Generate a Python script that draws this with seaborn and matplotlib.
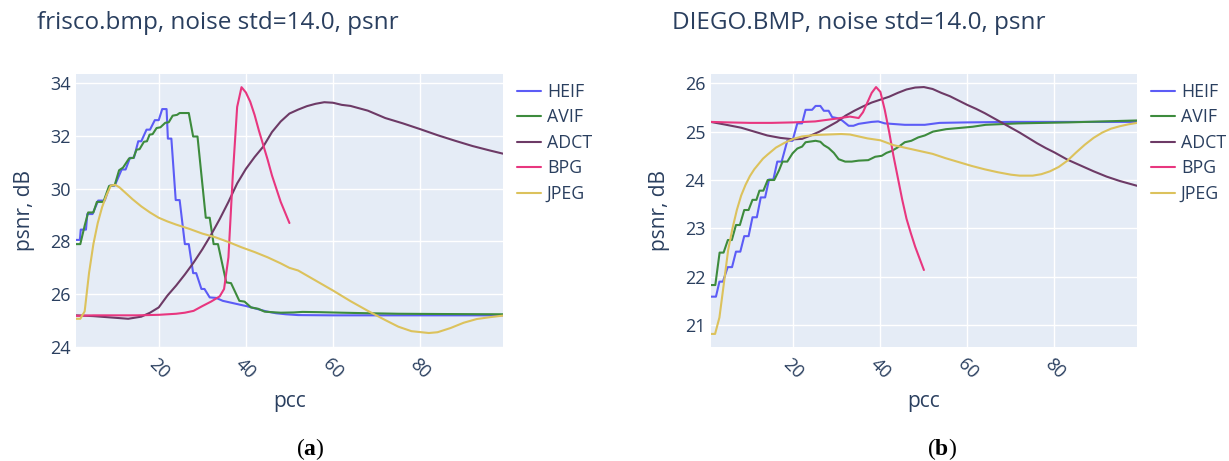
import pandas as pd
import matplotlib.pyplot as plt
import seaborn as sns

codecs = ['HEIF', 'AVIF', 'ADCT', 'BPG', 'JPEG']
palette = {'HEIF': '#5c5cf6', 'AVIF': '#3d8b3d', 'ADCT': '#6d3a66',
           'BPG': '#e8367f', 'JPEG': '#dcc25c'}

# ---- panel (a): frisco.bmp ----
heif_a_x = [1, 1.9, 2.1, 3.3, 3.6, 4.8, 6.1, 7.6, 8.8, 9.9, 11.5, 12.4, 13.4, 14.3, 15.3, 16.0,
            17.2, 18.0, 19.1, 20.0, 20.8, 21.8, 22.1, 22.9, 23.9, 24.8, 26.0, 26.9, 27.9, 28.6,
            29.8, 30.5, 31.7, 33.2, 34.7, 37.4, 40.1, 42.4, 44.7, 46.9, 49.2, 52, 60, 70, 80, 90, 99]
heif_a_y = [28.06, 28.06, 28.45, 28.45, 29.04, 29.04, 29.55, 29.55, 30.12, 30.12, 30.73, 30.73,
            31.17, 31.17, 31.8, 31.8, 32.24, 32.24, 32.6, 32.6, 33.02, 33.02, 31.9, 31.9, 29.57,
            29.57, 27.9, 27.9, 26.8, 26.8, 26.2, 26.2, 25.88, 25.86, 25.75, 25.65, 25.55, 25.45,
            25.35, 25.28, 25.24, 25.21, 25.2, 25.2, 25.2, 25.2, 25.2]

avif_a_x = [1, 2, 3.0, 3.8, 5.0, 5.8, 7.3, 8.6, 9.9, 10.9, 11.8, 13.2, 14.2, 14.9, 15.6, 16.6,
            17.3, 17.9, 18.6, 19.5, 20.4, 21.5, 22.3, 23.2, 24.2, 24.8, 26.9, 27.9, 28.9, 30.8,
            31.7, 32.6, 33.6, 35.5, 36.6, 38.5, 39.7, 41.2, 42.8, 44.3, 46, 48, 51, 53, 57, 62,
            68, 75, 85, 99]
avif_a_y = [27.9, 27.9, 28.6, 29.1, 29.1, 29.5, 29.5, 30.1, 30.14, 30.7, 30.8, 31.15, 31.17,
            31.48, 31.5, 31.78, 31.8, 32.05, 32.07, 32.3, 32.33, 32.5, 32.52, 32.77, 32.8, 32.87,
            32.87, 31.98, 31.98, 28.9, 28.9, 27.9, 27.9, 26.45, 26.42, 25.75, 25.72, 25.5, 25.45,
            25.34, 25.32, 25.3, 25.31, 25.33, 25.32, 25.3, 25.28, 25.26, 25.25, 25.24]

adct_a_x = [1, 5, 9, 13, 16, 18, 20, 22, 24, 26, 28, 30, 32, 34, 36, 38, 40, 42, 44, 46, 48,
            50, 52, 54, 56, 58, 60, 62, 64, 66, 68, 70, 72, 76, 80, 84, 88, 92, 96, 99]
adct_a_y = [25.2, 25.17, 25.12, 25.07, 25.15, 25.3, 25.5, 25.95, 26.33, 26.75, 27.2, 27.7,
            28.25, 28.85, 29.5, 30.2, 30.75, 31.2, 31.6, 32.15, 32.55, 32.85, 33.0, 33.13, 33.22,
            33.28, 33.26, 33.18, 33.14, 33.05, 32.96, 32.82, 32.68, 32.48, 32.26, 32.03, 31.82,
            31.62, 31.45, 31.33]

bpg_a_x = [1, 5, 10, 15, 20, 24, 26, 28, 30, 32, 34, 35, 36, 37, 38, 39, 40, 41, 42, 43, 44,
           45, 46, 47, 48, 49, 50]
bpg_a_y = [25.18, 25.2, 25.2, 25.2, 25.22, 25.26, 25.3, 25.37, 25.55, 25.72, 25.92, 26.2, 27.4,
           30.5, 33.1, 33.85, 33.65, 33.3, 32.8, 32.2, 31.65, 31.1, 30.5, 30.0, 29.5, 29.1, 28.7]

jpeg_a_x = [1, 2, 3, 4, 5, 6, 7, 8, 9, 10, 11, 12, 14, 16, 18, 20, 22, 24, 27, 30, 33, 36, 39,
            42, 45, 48, 50, 52, 56, 60, 64, 68, 72, 75, 78, 82, 84, 87, 90, 93, 96, 99]
jpeg_a_y = [25.07, 25.07, 25.35, 26.8, 27.9, 28.7, 29.3, 29.75, 30.12, 30.15, 30.05, 29.9, 29.6,
            29.33, 29.1, 28.9, 28.76, 28.64, 28.48, 28.3, 28.16, 27.98, 27.78, 27.6, 27.4, 27.17,
            27.0, 26.9, 26.52, 26.14, 25.74, 25.37, 25.02, 24.77, 24.6, 24.53, 24.56, 24.72,
            24.92, 25.06, 25.13, 25.19]

# ---- panel (b): DIEGO.BMP ----
heif_b_x = [1, 2.2, 3.0, 3.8, 4.9, 5.9, 6.8, 7.8, 8.7, 9.7, 10.6, 11.6, 12.5, 13.5, 14.4, 15.4,
            16.3, 17.3, 18.6, 19.8, 20.9, 22.0, 22.8, 24.3, 25.1, 26.2, 27.0, 28.1, 28.9, 30.0,
            31.2, 32.7, 33.8, 35, 36.5, 38, 39.5, 41, 45.6, 50.2, 53.6, 60, 70, 80, 90, 99]
heif_b_y = [21.59, 21.59, 21.9, 21.9, 22.2, 22.2, 22.52, 22.52, 22.84, 22.84, 23.23, 23.23,
            23.64, 23.64, 24.01, 24.01, 24.38, 24.38, 24.81, 24.81, 25.17, 25.17, 25.45, 25.45,
            25.53, 25.53, 25.43, 25.43, 25.3, 25.28, 25.23, 25.12, 25.12, 25.16, 25.18, 25.2,
            25.21, 25.17, 25.14, 25.14, 25.18, 25.19, 25.2, 25.2, 25.2, 25.2]

avif_b_x = [1, 2.05, 3.04, 3.95, 4.94, 5.85, 6.8, 7.7, 8.7, 9.7, 10.6, 11.5, 12.2, 13.1, 14.1,
            15.6, 16.7, 17.5, 18.6, 19.8, 20.9, 22, 22.8, 25.1, 26.2, 27, 28.1, 29.3, 30.4, 31.9,
            33.4, 35, 37.2, 38.8, 40.3, 41.4, 42.6, 44.1, 45.6, 47.1, 48.7, 50.2, 52.1, 55.1,
            61.2, 64.2, 71.8, 83.2, 99]
avif_b_y = [21.83, 21.83, 22.5, 22.5, 22.76, 22.76, 23.07, 23.07, 23.38, 23.38, 23.59, 23.59,
            23.78, 23.78, 24.0, 24.0, 24.2, 24.38, 24.38, 24.55, 24.65, 24.69, 24.78, 24.81,
            24.79, 24.72, 24.66, 24.56, 24.43, 24.38, 24.38, 24.4, 24.41, 24.48, 24.5, 24.56,
            24.6, 24.68, 24.78, 24.81, 24.88, 24.92, 25.0, 25.05, 25.1, 25.14, 25.17, 25.19, 25.23]

adct_b_x = [1, 4, 8, 11, 14, 17, 20, 22, 24, 26, 28, 30, 32, 34, 36, 38, 40, 42, 44, 46, 48,
            50, 52, 54, 56, 58, 60, 62, 64, 66, 68, 70, 72, 74, 76, 78, 80, 83, 86, 89, 92, 95, 99]
adct_b_y = [25.2, 25.15, 25.08, 25.0, 24.92, 24.87, 24.84, 24.85, 24.92, 25.0, 25.1, 25.2,
            25.33, 25.43, 25.52, 25.6, 25.66, 25.72, 25.8, 25.87, 25.91, 25.92, 25.88, 25.8,
            25.73, 25.64, 25.55, 25.47, 25.38, 25.28, 25.18, 25.08, 24.98, 24.87, 24.76, 24.66,
            24.57, 24.42, 24.3, 24.18, 24.07, 23.98, 23.88]

bpg_b_x = [1, 5, 10, 15, 20, 25, 30, 33, 35, 36, 37, 38, 39, 40, 41, 42, 43, 44, 45, 46, 47,
           48, 49, 50]
bpg_b_y = [25.2, 25.19, 25.18, 25.18, 25.19, 25.21, 25.27, 25.31, 25.28, 25.4, 25.6, 25.8,
           25.92, 25.82, 25.45, 25.0, 24.5, 24.05, 23.6, 23.2, 22.9, 22.62, 22.38, 22.14]

jpeg_b_x = [1, 2, 3, 4, 5, 6, 7, 8, 9, 10, 11, 12, 13, 14, 16, 18, 20, 22, 25, 28, 31, 33, 35,
            37, 40, 43, 46, 49, 52, 55, 58, 61, 64, 67, 70, 72, 75, 77, 79, 81, 83, 85, 87, 89,
            91, 93, 95, 97, 99]
jpeg_b_y = [20.82, 20.82, 21.16, 21.85, 22.55, 23.0, 23.38, 23.68, 23.9, 24.08, 24.22, 24.33,
            24.44, 24.52, 24.67, 24.77, 24.85, 24.9, 24.93, 24.94, 24.95, 24.94, 24.9, 24.86,
            24.82, 24.72, 24.66, 24.6, 24.54, 24.45, 24.37, 24.29, 24.22, 24.16, 24.11, 24.09,
            24.09, 24.12, 24.18, 24.27, 24.4, 24.57, 24.73, 24.87, 24.98, 25.06, 25.11, 25.15, 25.18]

TEXT = '#2a3f5f'


def make_frame(series):
    parts = [pd.DataFrame({'pcc': xs, 'psnr': ys, 'codec': name})
             for name, (xs, ys) in series.items()]
    return pd.concat(parts, ignore_index=True)


def draw_panel(ax, df, ylim, yticks):
    sns.lineplot(data=df, x='pcc', y='psnr', hue='codec', hue_order=codecs,
                 palette=palette, estimator=None, linewidth=1.5, ax=ax)
    ax.set_xlim(1, 99)
    ax.set_ylim(*ylim)
    ax.set_xticks([20, 40, 60, 80])
    ax.set_yticks(yticks)
    ax.tick_params(length=0, labelsize=13, labelcolor=TEXT)
    ax.tick_params(axis='y', pad=4)
    ax.tick_params(axis='x', pad=6)
    for lbl in ax.get_xticklabels():
        lbl.set_rotation(-45)
        lbl.set_ha('center')
    ax.set_xlabel('pcc', fontsize=15, color=TEXT)
    ax.set_ylabel('psnr, dB', fontsize=15, color=TEXT)
    ax.xaxis.set_label_coords(0.5, -0.16)
    ax.yaxis.set_label_coords(-0.095, 0.5)
    for s in ax.spines.values():
        s.set_visible(False)
    handles, labels = ax.get_legend_handles_labels()
    ax.legend(handles, labels, loc='upper left', bbox_to_anchor=(1.032, 0.967),
              frameon=False, fontsize=12.8, handlelength=1.35, handletextpad=0.35,
              labelspacing=0.42, borderaxespad=0, borderpad=0, labelcolor=TEXT)


sns.set_theme(style='darkgrid', rc={'axes.facecolor': '#E5ECF6', 'grid.color': 'white',
                                    'grid.linewidth': 1.0})
plt.rcParams['font.family'] = ['Open Sans', 'DejaVu Sans']
plt.rcParams['mathtext.fontset'] = 'custom'
plt.rcParams['mathtext.rm'] = 'Liberation Serif'
plt.rcParams['mathtext.bf'] = 'Liberation Serif:bold'

fig = plt.figure(figsize=(12.29, 4.61), dpi=100)
fig.patch.set_facecolor('white')
ax1 = fig.add_axes([0.0618, 0.2473, 0.3474, 0.5922])
ax2 = fig.add_axes([0.5783, 0.2473, 0.3469, 0.5922])

df_a = make_frame({'HEIF': (heif_a_x, heif_a_y), 'AVIF': (avif_a_x, avif_a_y),
                   'ADCT': (adct_a_x, adct_a_y), 'BPG': (bpg_a_x, bpg_a_y),
                   'JPEG': (jpeg_a_x, jpeg_a_y)})
df_b = make_frame({'HEIF': (heif_b_x, heif_b_y), 'AVIF': (avif_b_x, avif_b_y),
                   'ADCT': (adct_b_x, adct_b_y), 'BPG': (bpg_b_x, bpg_b_y),
                   'JPEG': (jpeg_b_x, jpeg_b_y)})

draw_panel(ax1, df_a, (24.0, 34.35), [24, 26, 28, 30, 32, 34])
draw_panel(ax2, df_b, (20.55, 26.19), [21, 22, 23, 24, 25, 26])

fig.text(37 / 1229, 1 - 23 / 461, 'frisco.bmp, noise std=14.0, psnr',
         fontsize=17.5, color=TEXT, va='center', ha='left')
fig.text(672 / 1229, 1 - 23 / 461, 'DIEGO.BMP, noise std=14.0, psnr',
         fontsize=17.5, color=TEXT, va='center', ha='left')

fig.text(310 / 1229, 1 - 449 / 461, r'$(\mathbf{a})$', fontsize=17, color='black',
         ha='center', va='center')
fig.text(942 / 1229, 1 - 449 / 461, r'$(\mathbf{b})$', fontsize=17, color='black',
         ha='center', va='center')

fig.savefig('out.png', dpi=100)
